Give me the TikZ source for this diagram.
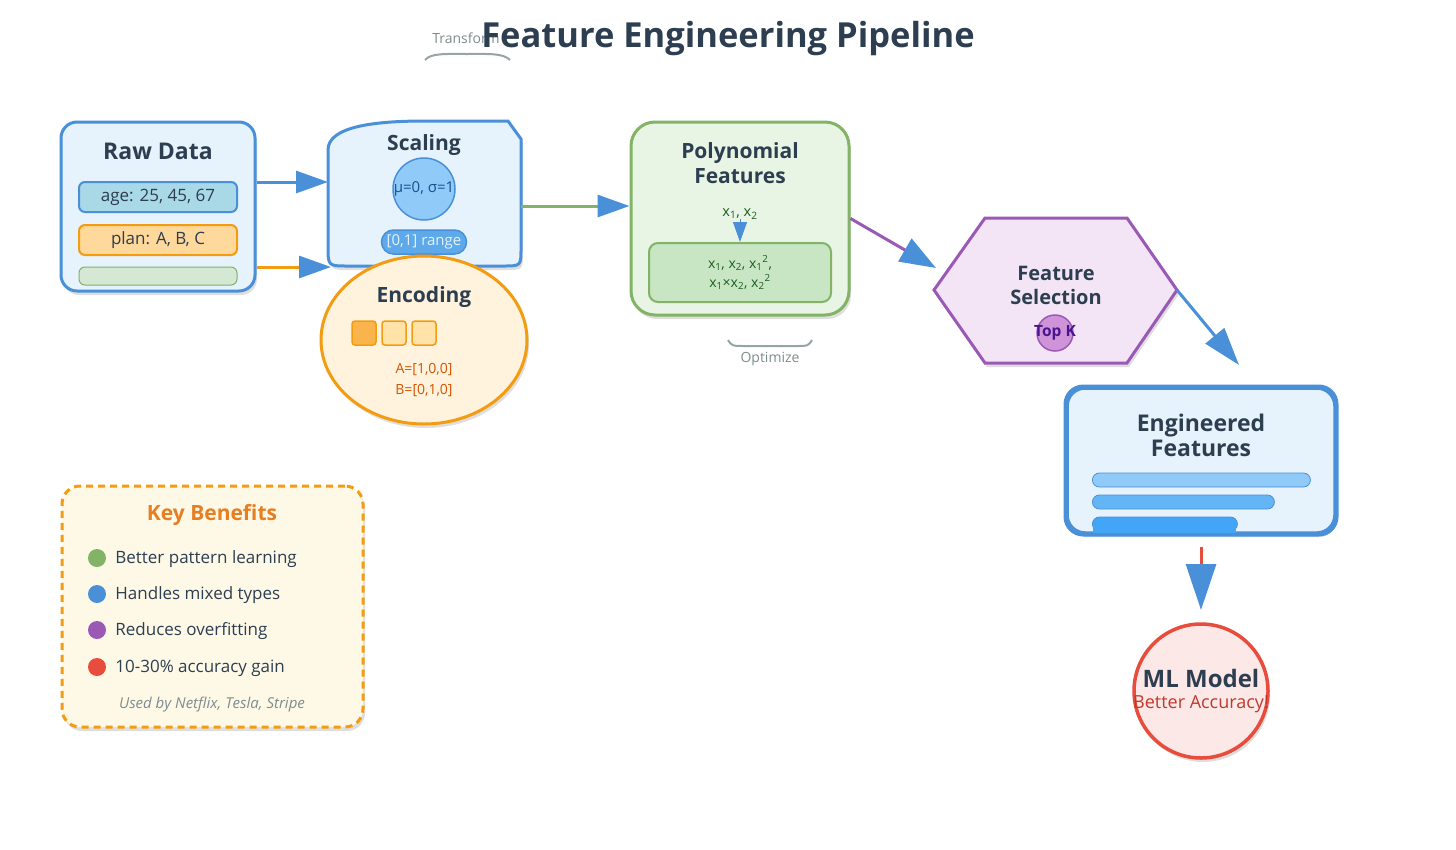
\documentclass[tikz,border=0pt]{standalone}
\usepackage{fontspec}
\setmainfont{Open Sans}
\usetikzlibrary{arrows.meta, shapes.geometric, shadows, positioning}

\definecolor{navy}{HTML}{2C3E50}
\definecolor{blueln}{HTML}{4A90D9}
\definecolor{bluebg}{HTML}{E6F2FC}
\definecolor{agebg}{HTML}{A9D8E6}
\definecolor{orangeln}{HTML}{F39C12}
\definecolor{planbg}{HTML}{FFD89B}
\definecolor{greenln}{HTML}{82B366}
\definecolor{greenbg}{HTML}{E8F5E4}
\definecolor{greenin}{HTML}{C8E6C4}
\definecolor{greenbar}{HTML}{D5E8D4}
\definecolor{greentx}{HTML}{1B5E20}
\definecolor{purpleln}{HTML}{9B59B6}
\definecolor{purplebg}{HTML}{F3E5F5}
\definecolor{topbg}{HTML}{CE93D8}
\definecolor{topktx}{HTML}{4A148C}
\definecolor{redln}{HTML}{E74C3C}
\definecolor{redbg}{HTML}{FDE8E8}
\definecolor{redtx}{HTML}{C0392B}
\definecolor{encbg}{HTML}{FFF3DE}
\definecolor{enctx}{HTML}{D35400}
\definecolor{sq1}{HTML}{F9B54C}
\definecolor{sq2}{HTML}{FFE3A8}
\definecolor{scbg}{HTML}{90CAF9}
\definecolor{mutx}{HTML}{1A4F8B}
\definecolor{rangebg}{HTML}{5DA9E9}
\definecolor{rangetx}{HTML}{E3F2FD}
\definecolor{bar1}{HTML}{90CAF9}
\definecolor{bar2}{HTML}{64B5F6}
\definecolor{bar3}{HTML}{42A5F5}
\definecolor{greytx}{HTML}{7F8C8D}
\definecolor{greyln}{HTML}{95A5A6}
\definecolor{kbbg}{HTML}{FEF9E7}
\definecolor{kbtx}{HTML}{E67E22}

\tikzset{
  dropsh/.style={drop shadow={shadow xshift=2pt, shadow yshift=-4pt, opacity=0.13, fill=black}},
  box/.style={draw=#1, line width=3pt, rounded corners=16pt, inner sep=0pt, dropsh},
  ttl/.style={text=navy, font=\fontsize{21}{25}\selectfont\bfseries, align=center},
  field/.style={draw=#1, line width=2pt, rounded corners=6pt, minimum width=158pt, minimum height=30pt,
    inner sep=0pt, text=navy, font=\fontsize{17}{20}\selectfont},
  sq/.style={draw=orangeln, line width=1.5pt, rounded corners=3pt, minimum size=24pt, inner sep=0pt},
  bar/.style={draw=blueln, line width=0.8pt, rounded corners=7pt, minimum height=14pt, inner sep=0pt, anchor=west},
  dot/.style={circle, minimum size=18pt, inner sep=0pt},
  item/.style={text=navy, font=\fontsize{17}{20}\selectfont, inner sep=2pt},
  flow/.style={line width=3pt, -{Triangle[length=32pt, width=22pt, color=blueln]}}
}

\begin{document}
\begin{tikzpicture}[x=1pt, y=-1pt]
  \useasboundingbox (0,0) rectangle (1456,849);

  % title
  \node[text=greytx, font=\fontsize{14}{16}\selectfont] (tf) at (466,38) {Transform};
  \draw[greyln, line width=2pt] (425,60) .. controls (431,53) and (445,54) .. (467,54)
    .. controls (489,54) and (503,53) .. (510,60);
  \node[text=navy, font=\fontsize{34.5}{40}\selectfont\bfseries] (title) at (728,39) {Feature Engineering Pipeline};

  % raw data
  \node[box=blueln, fill=bluebg, minimum width=194pt, minimum height=169pt] (raw) at (158,206.5) {};
  \node[ttl, font=\fontsize{23}{26}\selectfont\bfseries] (rawt) at (158,151) {Raw Data};
  \node[field=blueln, fill=agebg] (age) at (158,197) {age: 25, 45, 67};
  \node[field=orangeln, fill=planbg] (plan) at (158,240) {plan: A, B, C};
  \node[field=greenln, fill=greenbar, line width=1pt, minimum height=18pt] (blank) at (158,276) {};

  % scaling
  \draw[draw=blueln, fill=bluebg, line width=3pt, dropsh] (328,150) .. controls (328,127) and (372,121) .. (425,121)
    -- (508,121) -- (521,139) -- (521,248) .. controls (521,266) .. (503,266) -- (348,266)
    .. controls (328,266) .. (328,246) -- cycle;
  \node[ttl] (scale) at (424,145) {Scaling};
  \node[circle, draw=blueln, fill=scbg, line width=1.5pt, minimum size=62pt] (mu) at (424,189) {};
  \node[text=mutx, font=\fontsize{15}{18}\selectfont] (mut) at (mu) {μ=0, σ=1};
  \node[draw=blueln, fill=rangebg, line width=1.5pt, rounded corners=12pt, minimum width=85pt, minimum height=24pt,
    inner sep=0pt, text=rangetx, font=\fontsize{15}{18}\selectfont] (range) at (424,242) {[0,1] range};

  % encoding
  \node[ellipse, draw=orangeln, fill=encbg, line width=3pt, minimum width=206pt, minimum height=168pt, dropsh] (enc) at (424,340) {};
  \node[ttl] (enct) at (424,297) {Encoding};
  \foreach \i/\x/\col in {1/364/sq1, 2/394/sq2, 3/424/sq2}
    \node[sq, fill=\col] (sq\i) at (\x,333) {};
  \node[text=enctx, font=\fontsize{14}{21}\selectfont, align=center] (onehot) at (424,380) {A=[1,0,0]\\B=[0,1,0]};

  % polynomial features
  \node[box=greenln, fill=greenbg, rounded corners=24pt, minimum width=218pt, minimum height=193pt] (poly) at (740,218.5) {};
  \node[ttl] (polyt) at (740,163) {Polynomial\\Features};
  \node[text=greentx, font=\fontsize{14.5}{16}\selectfont, inner sep=0pt] (xin) at (740,214) {x\textsubscript{1}, x\textsubscript{2}};
  \node[draw=greenln, fill=greenin, line width=2pt, rounded corners=9pt, minimum width=182pt, minimum height=59pt,
    align=center, text=greentx, font=\fontsize{14}{19}\selectfont] (xout) at (740,272.5)
    {x\textsubscript{1}, x\textsubscript{2}, x\textsubscript{1}\textsuperscript{2},\\x\textsubscript{1}×x\textsubscript{2}, x\textsubscript{2}\textsuperscript{2}};
  \draw[blueln, line width=1pt, -{Triangle[length=20pt, width=14pt]}] (xin) -- (xout);
  \draw[greyln, line width=2pt] (728,340) .. controls (732,346) .. (745,346) -- (797,346) .. controls (808,346) .. (812,340);
  \node[text=greytx, font=\fontsize{14}{16}\selectfont] (opt) at (770,359) {Optimize};

  % feature selection
  \draw[draw=purpleln, fill=purplebg, line width=3pt, dropsh] (934,290) -- (985,218) -- (1127,218) -- (1177,290)
    -- (1127,363) -- (985,363) -- cycle;
  \node[ttl, font=\fontsize{20}{24}\selectfont\bfseries] (sel) at (1056,285) {Feature\\Selection};
  \node[circle, draw=purpleln, fill=topbg, line width=1.5pt, minimum size=36pt] (topk) at (1055,333) {};
  \node[text=topktx, font=\fontsize{15.5}{18}\selectfont\bfseries] (topkt) at (topk) {Top K};

  % engineered features
  \node[box=blueln, fill=bluebg, line width=3.5pt, rounded corners=18pt, minimum width=268pt, minimum height=145pt] (eng) at (1201,460.5) {};
  \node[ttl, font=\fontsize{23}{25}\selectfont\bfseries] (engt) at (1201,435) {Engineered\\Features};
  \begin{scope}
    \clip[rounded corners=18pt] (eng.south west) rectangle (eng.north east);
    \foreach \i/\w/\col in {1/218/bar1, 2/182/bar2, 3/145/bar3}
      \node[bar, fill=\col, minimum width=\w pt] (bar\i) at (1092,458+22*\i) {};
    \fill[bar3] (1093,524) rectangle (1236,540);
  \end{scope}
  \draw[blueln, line width=3.5pt, rounded corners=18pt] (eng.south west) rectangle (eng.north east);

  % ml model
  \node[circle, draw=redln, fill=redbg, line width=3.5pt, minimum size=134pt, dropsh] (ml) at (1201,691) {};
  \node[ttl, font=\fontsize{24}{28}\selectfont\bfseries] (mlt) at (1201,678) {ML Model};
  \node[text=redtx, font=\fontsize{18}{20}\selectfont] (mlsub) at (1201,704) {Better Accuracy!};

  % key benefits
  \node[box=orangeln, fill=kbbg, dash pattern=on 7pt off 5pt, rounded corners=18pt, minimum width=301pt, minimum height=241pt] (kb) at (212.5,606.5) {};
  \node[ttl, text=kbtx] (kbt) at (212,515) {Key Benefits};
  \foreach \y/\col/\txt [count=\i] in {558/greenln/Better pattern learning, 594/blueln/Handles mixed types,
      630/purpleln/Reduces overfitting, 667/redln/10-30\% accuracy gain} {
    \node[dot, fill=\col] (d\i) at (97,\y) {};
    \node[item, right=7pt of d\i, yshift=-1.5pt] (t\i) {\txt};
  }
  \node[text=greytx, font=\fontsize{15}{18}\selectfont\itshape] (used) at (212,705) {Used by Netflix, Tesla, Stripe};

  % connectors
  \coordinate (scIn1) at (328,182);
  \coordinate (scIn2) at (331,267);
  \coordinate (scOut) at (521,206);
  \coordinate (selIn) at (936,268);
  \coordinate (selOut) at (1177,290);
  \coordinate (engIn) at (1239,365);
  \coordinate (mlIn) at (1201,610);
  \draw[flow, blueln] (raw.east |- scIn1) -- (scIn1);
  \draw[flow, orangeln] (raw.east |- scIn2) -- (scIn2);
  \draw[flow, greenln] (scOut) -- (poly.west |- scOut);
  \draw[flow, purpleln, -{Triangle[length=36pt, width=26pt, color=blueln]}] (poly.east) -- (selIn);
  \draw[flow, blueln, -{Triangle[length=38pt, width=24pt, color=blueln]}] (selOut) -- (engIn);
  \draw[flow, redln, -{Triangle[length=46pt, width=30pt, color=blueln]}] ([yshift=-12pt]eng.south) -- (mlIn);
\end{tikzpicture}
\end{document}
